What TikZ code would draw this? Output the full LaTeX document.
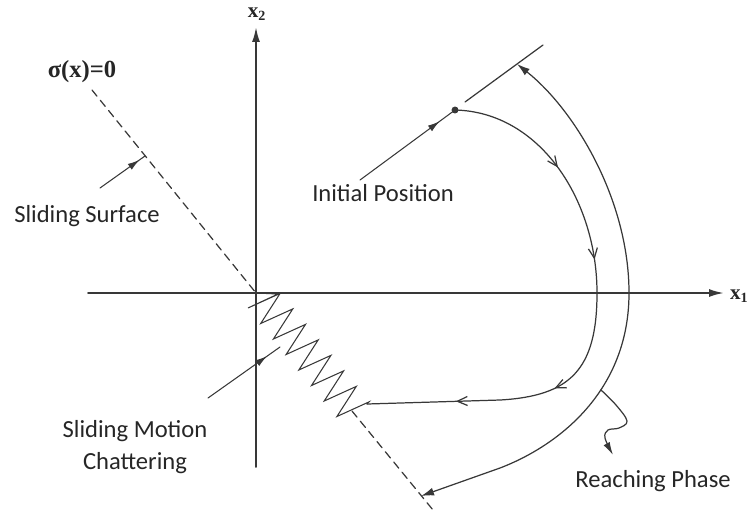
\documentclass[tikz,border=0pt]{standalone}
\usepackage{fontspec}
\setmainfont{Carlito}
\newfontfamily\smserif{Liberation Serif}
\usetikzlibrary{arrows.meta,decorations.markings}
\definecolor{smInk}{HTML}{262626}
\definecolor{smLine}{HTML}{383838}
\tikzset{
  sm diagram/.style={x=0.02cm, y=-0.02cm, font=\fontsize{14}{18}\selectfont,
    text=smInk, line cap=round, line join=round},
  sm axis/.style={draw=smLine, line width=1.1pt, -{Latex[length=3mm,width=1.6mm]}},
  sm surface/.style={draw=smLine, line width=0.7pt, dash pattern=on 4.5pt off 3pt},
  sm path/.style={draw=smLine, line width=0.7pt},
  sm chatter/.style={draw=smLine, line width=0.6pt, line join=miter},
  sm flow/.style={postaction={decorate, decoration={markings,
    mark=at position #1 with {\arrow{Straight Barb[length=2mm,width=1.8mm]}}}}},
  sm pointer/.style={draw=smLine, line width=0.6pt, postaction={decorate,
    decoration={markings, mark=at position #1 with {\arrow{Latex[length=2.4mm,width=1.4mm]}}}}},
  sm pointer/.default=0.85,
  sm reach/.style={sm path, {Latex[length=2.6mm,width=1.6mm]}-{Latex[length=2.6mm,width=1.6mm]}},
  sm dot/.style={circle, fill=smLine, inner sep=1.4pt},
  sm label/.style={align=center, inner sep=1pt},
  sm axis label/.style={font=\smserif\bfseries\fontsize{12}{14}\selectfont, inner sep=1pt}
}
\begin{document}
\begin{tikzpicture}[sm diagram]
\useasboundingbox (0,0) rectangle (749,514);
\coordinate (o) at (256,293);
\coordinate (x1start) at (88,293);
\coordinate (x1end) at (724,293);
\coordinate (x2start) at (256,467);
\coordinate (x2end) at (256,27);
\draw[sm axis] (x1start) -- (x1end);
\draw[sm axis] (x2start) -- (x2end);
\node[sm axis label, anchor=west] (x1lbl) at (728,296) {x\textsubscript{1}};
\node[sm axis label] (x2lbl) at (257,14) {x\textsubscript{2}};

\coordinate (stop) at (92,90);
\coordinate (sbot) at (433,510);
\coordinate (chatend) at (352,411);
\draw[sm surface] (stop) -- (o);
\draw[sm surface] (chatend) -- (sbot);
\node[sm axis label, font=\smserif\bfseries\fontsize{14}{16}\selectfont] (sigmalbl) at (82,72) {σ(x)=0};

\node[sm dot] (init) at (455,110) {};
\coordinate (cross) at (597,293);
\coordinate (bend) at (500,400);
\coordinate (hit) at (367,404);
\draw[sm path, sm flow=0.22, sm flow=0.4, sm flow=0.66, sm flow=0.84]
  (init.center) .. controls (540,112) and (597,200) .. (cross)
  .. controls (597,370) and (570,396) .. (bend) -- (hit);
\draw[sm chatter] (o) -- (278,294) -- ++(-30,14)
  \foreach \k in {1,...,7} { -- ++(32.1,-14.6) -- ++(-19.4,30.1) }
  -- ++(32.1,-14.6) -- (hit);

\coordinate (tanA) at (465,102);
\coordinate (tanB) at (543,45);
\draw[sm path] (tanA) -- (tanB);

\coordinate (reachtop) at (517,64);
\coordinate (reachbot) at (421,496);
\draw[sm reach] (reachtop) .. controls (575,110) and (629,200) .. (629,293)
  .. controls (629,390) and (560,445) .. (500,468) coordinate[pos=0.4] (reachmark)
  -- (reachbot);

\node[sm label] (initlbl) at (383,193) {Initial Position};
\coordinate (initfrom) at (360,180);
\draw[sm pointer=0.84] (initfrom) -- (init.center);

\node[sm label] (surflbl) at (87,216) {Sliding Surface};
\coordinate (surffrom) at (100,188);
\coordinate (surfto) at (145,156);
\draw[sm pointer=0.88] (surffrom) -- (surfto);

\node[sm label] (chatlbl) at (135,447) {Sliding Motion\\Chattering};
\coordinate (chatfrom) at (208,398);
\coordinate (chatto) at (280,347);
\draw[sm pointer=0.82] (chatfrom) -- (chatto);

\node[sm label] (reachlbl) at (653,481) {Reaching Phase};
\coordinate (reachtip) at (613,455);
\draw[sm path, -{Latex[length=2.6mm,width=1.4mm]}] plot[smooth, tension=0.6]
  coordinates {(reachmark) (616,405) (627,421) (619,428) (608,430) (605,438) (reachtip)};
\end{tikzpicture}
\end{document}
